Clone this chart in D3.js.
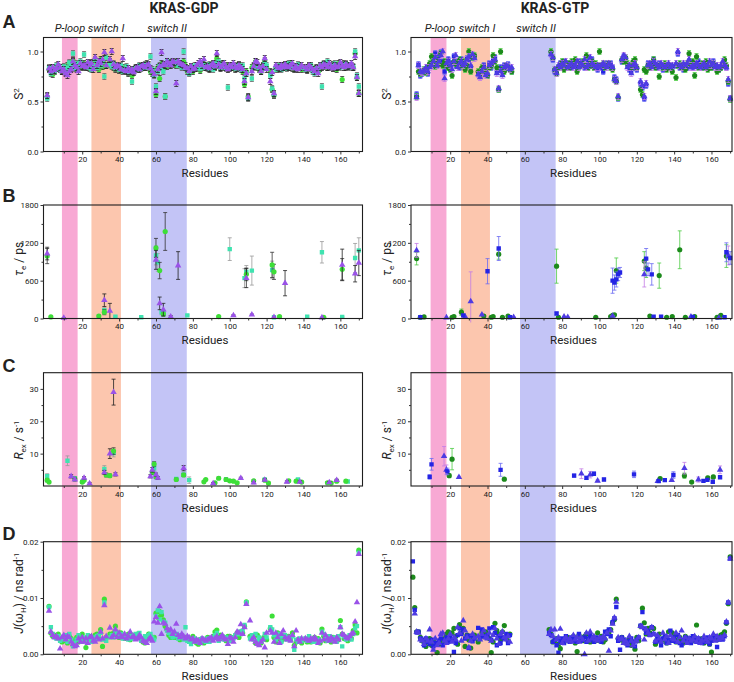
<!DOCTYPE html>
<html><head><meta charset="utf-8">
<script src="https://cdn.jsdelivr.net/npm/d3@7"></script>
<style>
body{margin:0;background:#fff}
svg text{font-family:Roboto,"Liberation Sans",sans-serif;fill:#222}
</style>
</head><body>
<svg id="chart" width="734" height="682"></svg>
<script>
// ---------------- DATA ----------------
const titles = ["KRAS-GDP", "KRAS-GTP"];
const panelLetters = ["A", "B", "C", "D"];
const regionNames = ["P-loop", "switch I", "switch II"];
const regionsGDP = [[9, 17.5], [25, 41], [57.3, 76.7]];
const regionsGTP = [[9.5, 18], [25.8, 41.3], [57.4, 76.5]];
const xTicks = [20, 40, 60, 80, 100, 120, 140, 160];
const xMinor = [10, 30, 50, 70, 90, 110, 130, 150, 170];
const ticksS2 = [0, 0.5, 1.0], minorS2 = [0.25, 0.75];
const ticksTau = [0, 600, 1200, 1800], minorTau = [300, 900, 1500];
const ticksRex = [10, 20, 30], minorRex = [5, 15, 25];
const ticksJ = [0, 10, 20], minorJ = [5, 15];   // J in units of 1e-3 ns/rad
const s2Err = 0.03;

// S2, KRAS-GDP (index = residue)
const s2GdpGreen = [null,0.55,0.82,0.84,0.77,0.80,0.83,0.85,0.82,0.80,
 0.84,0.79,0.86,0.88,0.83,0.91,0.85,0.82,0.87,0.86,
 0.84,0.88,0.85,0.87,0.83,0.89,0.84,0.90,0.86,0.82,
 0.92,0.85,0.88,0.86,null,0.90,0.86,0.84,0.82,0.85,
 0.81,0.83,0.80,0.84,0.82,0.78,0.80,0.76,0.82,0.84,
 0.83,0.85,0.84,0.86,0.85,0.88,0.84,0.80,0.78,0.80,
 0.57,0.84,0.73,0.88,0.84,0.55,0.85,0.87,0.89,0.88,
 0.87,0.86,0.88,0.87,0.85,0.90,0.86,0.80,0.79,0.82,
 0.80,0.84,0.83,0.86,0.81,0.85,0.88,0.84,0.86,0.82,
 0.85,0.87,0.84,0.93,0.86,0.83,0.88,0.84,0.86,0.85,
 0.83,0.86,0.84,0.82,0.85,0.87,0.84,0.80,0.67,0.80,
 0.55,null,0.84,0.86,0.90,0.84,0.82,0.80,0.86,0.91,
 0.84,null,0.80,0.62,0.56,0.84,0.82,0.85,0.83,0.86,
 0.84,0.87,0.85,0.88,0.83,0.82,0.85,0.84,0.86,0.82,
 null,0.83,0.81,0.85,0.86,0.82,0.80,0.84,0.80,0.83,
 0.86,0.85,0.88,0.84,0.86,0.85,0.87,0.84,0.82,0.88,
 0.86,0.72,0.88,0.84,0.86,0.85,0.86,0.84,0.98,0.74,
 0.58];
const s2GdpCyan = [null,0.53,0.84,0.78,0.82,0.80,0.86,0.83,0.82,0.81,
 0.85,0.80,0.84,0.89,0.86,0.98,0.83,0.88,0.85,0.90,
 0.87,0.97,0.86,0.84,0.88,0.82,0.86,0.92,0.84,0.88,
 0.86,0.90,0.75,0.94,null,0.87,0.85,0.88,0.83,0.84,
 0.82,0.86,0.80,0.82,0.85,0.79,0.81,0.70,0.80,0.83,
 0.82,0.86,0.83,0.84,0.87,0.84,0.86,0.95,0.82,0.76,
 0.65,0.80,0.86,0.84,0.80,0.55,0.90,0.88,0.87,0.89,
 0.88,0.90,0.86,0.88,0.84,1.00,0.84,0.82,0.78,0.84,
 0.82,0.86,0.84,0.85,0.83,0.87,0.84,0.86,0.83,0.87,
 0.84,0.82,0.88,0.86,0.90,0.84,0.87,0.85,0.83,0.64,
 0.85,0.84,0.86,0.83,0.86,0.84,0.82,0.86,0.73,0.78,
 0.53,null,0.73,0.84,0.88,0.86,0.83,0.82,0.84,0.88,
 0.86,null,0.76,0.63,0.57,0.82,0.84,0.86,0.82,0.85,
 0.86,0.83,0.88,0.84,0.86,0.84,0.83,0.87,0.85,0.84,
 null,0.82,0.84,0.83,0.86,0.80,0.78,0.83,0.82,0.85,
 0.65,0.88,0.86,0.90,0.85,0.84,0.86,0.88,0.84,0.86,
 0.84,0.87,0.86,0.88,0.85,0.84,0.86,0.85,1.00,0.76,
 0.65];
const s2GdpPurple = [null,0.56,0.83,0.80,0.84,0.81,0.83,0.87,0.84,0.80,
 0.82,0.78,0.76,0.80,0.82,0.90,0.86,0.84,0.80,0.88,
 0.85,0.86,0.84,0.89,0.86,0.88,0.82,0.94,0.86,0.90,
 0.88,0.92,0.99,0.86,null,0.92,1.00,0.87,0.84,0.86,
 0.85,0.82,0.93,0.81,0.80,0.83,0.80,0.82,0.79,0.83,
 0.84,0.82,0.85,0.86,0.84,0.86,0.87,0.83,0.80,0.77,
 0.60,0.82,0.85,0.99,0.87,0.86,0.90,0.88,0.86,0.90,
 0.89,0.68,0.90,0.88,0.87,0.86,0.84,0.83,0.80,0.85,
 0.82,0.83,0.86,0.88,0.90,0.86,0.92,0.84,0.85,0.83,
 0.86,0.88,0.85,0.98,0.87,0.84,0.86,0.88,0.84,0.82,
 0.86,0.84,0.88,0.85,0.83,0.86,0.84,0.82,0.70,0.78,
 0.54,null,0.80,0.85,0.90,0.89,0.84,0.80,0.85,0.93,
 0.82,null,0.70,0.79,0.58,0.86,0.84,0.83,0.86,0.84,
 0.87,0.85,0.84,0.86,0.88,0.83,0.85,0.82,0.84,0.86,
 null,0.84,0.82,0.86,0.84,0.82,0.80,0.83,0.78,0.86,
 0.84,0.87,0.86,0.84,0.88,0.85,0.83,0.86,0.84,0.85,
 0.89,0.86,0.84,0.87,0.85,0.86,0.88,0.84,0.95,0.74,
 0.58];

// S2, KRAS-GTP
const s2GtpGreen = [null,null,0.55,0.80,0.78,0.80,0.82,0.79,0.84,0.88,
 0.95,0.90,0.85,0.92,0.88,0.98,0.86,0.90,0.88,0.84,
 0.82,0.76,0.90,0.88,0.86,0.92,0.86,0.90,0.82,0.86,
 1.00,0.80,0.94,0.96,null,0.80,0.78,0.84,0.82,0.80,
 0.76,0.84,0.86,0.96,0.90,0.84,0.62,1.00,0.82,0.80,
 0.86,0.84,0.82,0.80,null,null,null,null,null,null,
 null,null,null,null,null,null,null,null,null,null,
 null,null,null,null,1.00,0.94,0.82,0.78,0.84,0.86,
 0.90,0.82,0.86,0.88,0.84,0.90,0.86,0.92,0.80,0.85,
 0.88,0.90,0.86,0.96,0.84,0.88,0.90,0.84,0.88,0.86,
 1.00,0.86,0.88,0.84,0.86,0.88,0.84,0.82,0.72,0.70,
 0.54,null,0.92,0.90,0.94,0.88,0.86,0.84,0.90,0.92,
 0.84,null,0.62,0.57,0.82,0.80,0.86,0.84,0.88,0.92,
 0.84,0.86,0.75,0.86,0.84,0.88,0.82,0.86,0.84,0.80,
 null,0.74,0.86,0.88,0.84,0.86,0.82,0.88,0.98,0.86,
 0.90,0.76,0.95,0.84,0.86,0.88,0.84,0.90,0.82,0.86,
 0.84,0.88,0.86,0.80,0.82,0.84,0.86,0.92,0.86,0.70,
 0.52];
const s2GtpBlue = [null,null,0.57,0.87,0.76,0.78,0.80,0.82,0.78,0.86,
 0.88,0.92,0.98,0.86,0.94,0.99,0.90,0.80,0.86,0.92,
 0.84,0.88,0.95,0.86,0.90,0.84,0.92,0.88,0.86,0.93,
 0.92,0.84,0.96,0.95,null,0.78,0.76,0.82,0.86,0.78,
 0.76,0.88,0.84,0.92,0.94,0.80,0.62,0.84,0.78,0.86,
 0.84,0.87,0.83,0.80,null,null,null,null,null,null,
 null,null,null,null,null,null,null,null,null,null,
 null,null,null,null,0.98,0.92,0.80,0.80,0.84,0.88,
 0.86,0.90,0.84,0.86,0.88,0.84,0.86,0.88,0.84,0.90,
 0.86,0.88,0.84,0.86,0.90,0.86,0.92,0.86,0.84,0.82,
 0.86,0.84,0.80,0.86,0.88,0.86,0.88,0.84,0.74,0.72,
 0.53,null,0.90,0.95,0.92,0.86,0.82,0.80,0.84,0.86,
 0.82,null,0.68,0.64,0.53,0.66,0.88,0.84,0.86,0.92,
 0.86,0.84,0.88,0.86,0.82,0.84,0.86,0.84,0.86,0.84,
 null,0.86,0.98,0.84,0.86,0.82,0.86,0.84,0.90,0.86,
 0.84,0.88,0.86,0.90,0.86,0.84,0.86,0.84,0.88,0.86,
 0.84,0.90,0.86,0.84,0.82,0.84,0.86,0.88,0.84,0.68,
 0.53];
const s2GtpViolet = [null,null,0.54,0.86,0.80,0.79,0.81,0.84,0.80,0.84,
 0.86,0.90,0.94,0.86,0.90,0.96,1.00,0.73,0.88,0.90,
 0.86,0.82,0.90,0.96,0.84,0.88,0.90,0.86,0.88,0.92,
 0.95,0.86,0.97,0.93,null,0.77,0.74,0.80,0.84,0.76,
 0.78,0.86,0.88,0.90,0.92,0.78,0.63,0.80,0.76,0.84,
 0.86,0.85,0.82,0.84,null,null,null,null,null,null,
 null,null,null,null,null,null,null,null,null,null,
 null,null,null,null,0.97,0.94,0.82,0.78,0.86,0.84,
 0.88,0.86,0.90,0.84,0.86,0.88,0.84,0.86,0.90,0.84,
 0.88,0.86,0.92,0.84,0.86,0.94,0.88,0.86,0.84,0.86,
 0.84,0.86,0.88,0.86,0.84,0.88,0.86,0.84,0.72,0.70,
 0.55,null,0.92,0.96,0.94,0.84,0.86,0.78,0.86,0.88,
 0.84,null,0.70,0.66,0.55,0.68,0.86,0.88,0.84,0.90,
 0.88,0.86,0.84,0.88,0.86,0.84,0.86,0.88,0.84,0.86,
 null,0.88,1.00,0.86,0.84,0.88,0.86,0.88,0.92,0.84,
 0.86,0.84,0.88,0.86,0.84,0.86,0.88,0.84,0.86,0.90,
 0.86,0.88,0.84,0.86,0.84,0.86,0.90,0.86,0.84,0.72,
 0.53];

// tau_e (ps): [residue, value, error]
const tauGdpGreen = [[1,990,120],[3,25,8],[29,40,15],[32,100,40],[60,1120,150],[62,760,130],[64,70,30],[65,1380,300],[94,30,8],[109,700,100],[123,850,200],[124,740,120],[127,30,8],[151,20,6],[161,780,170]];
const tauGdpCyan = [[32,130,40],[38,30,10],[52,20,6],[60,1000,150],[61,890,140],[63,100,40],[64,90,30],[77,50,10],[100,1100,180],[108,640,150],[109,740,100],[112,760,230],[123,770,140],[124,20,6],[142,30,10],[150,1050,170],[161,25,6],[168,960,230],[170,1080,200]];
const tauGdpPurple = [[1,1030,100],[10,10,5],[32,290,100],[35,120,120],[60,930,150],[62,240,100],[64,140,100],[68,30,15],[72,840,220],[102,50,10],[109,640,150],[112,60,10],[124,20,6],[130,560,200],[150,15,5],[161,850,250],[168,710,130],[170,880,200]];
const tauGtpGreen = [[2,950,100],[4,20,5],[6,25,5],[21,20,5],[22,30,5],[26,100,50],[38,40,10],[42,20,5],[43,30,5],[46,1020,80],[48,20,5],[51,40,10],[77,830,270],[78,20,5],[98,20,5],[106,30,5],[107,50,5],[108,60,10],[109,760,200],[124,910,150],[125,800,150],[127,40,5],[132,680,200],[136,20,5],[139,30,5],[143,1090,300],[146,20,5],[151,30,5],[163,20,5],[165,50,10],[168,990,180]];
const tauGtpBlue = [[4,20,5],[27,50,10],[40,750,200],[46,1110,190],[52,20,5],[77,80,20],[107,600,200],[108,570,120],[109,620,120],[110,700,100],[111,730,80],[125,950,160],[126,780,100],[128,700,170],[129,30,5],[133,30,5],[150,25,5],[167,20,5],[168,1050,150],[170,960,100]];
const tauGtpViolet = [[2,1080,110],[18,15,5],[28,30,5],[31,270,470],[37,60,10],[54,20,5],[81,30,5],[83,20,5],[107,40,5],[124,700,200],[149,30,5],[164,10,5],[169,1000,150]];

// R_ex (s^-1): [residue, value, error]
const rexGdpGreen = [[1,1.8,0.5],[2,1.2,0.3],[16,2.2,0.5],[20,1.2,0.3],[21,1.8,0.4],[33,3.4,0.6],[35,3.2,0.5],[37,10.8,1],[58,4.2,0.6],[59,6.8,0.7],[60,2.8,0.4],[71,2.0,0.4],[75,3.4,0.5],[86,1.3,0.3],[87,2.0,0.3],[92,1.0,0.3],[94,2.4,0.4],[98,2.0,0.4],[100,1.6,0.3],[102,1.5,0.3],[104,1.0,0.3],[113,1.6,0.3],[119,1.8,0.3],[121,0.9,0.3],[132,1.6,0.3],[136,1.5,0.3],[139,1.2,0.3],[153,1.0,0.3],[155,0.9,0.3],[158,1.5,0.3],[163,1.5,0.3]];
const rexGdpCyan = [[1,3.0,0.8],[12,7.8,1.5],[16,2.4,0.5],[20,1.3,0.3],[32,5.3,1.0],[37,10.2,1.2],[59,5.5,0.8],[71,2.2,0.4],[75,3.5,0.5],[78,1.8,1.0],[98,2.0,0.4],[119,2.0,0.3],[137,2.0,0.3],[164,1.4,0.3]];
const rexGdpPurple = [[14,3.0,0.5],[16,2.0,0.4],[21,2.5,0.4],[24,0.8,0.3],[32,4.2,0.6],[35,10.0,1.5],[37,29.0,4.0],[38,3.6,0.5],[57,3.0,0.5],[58,5.0,0.7],[60,3.5,0.5],[61,2.5,0.4],[75,5.5,0.8],[91,0.8,0.3],[106,2.4,0.3],[113,1.0,0.3],[119,1.9,0.3],[131,1.3,0.3],[138,1.3,0.3],[154,1.1,0.3],[158,1.8,0.3]];
const rexGtpGreen = [[19.5,3.2,0.6],[21,8.3,3.3],[49,2.1,0.3],[132.5,2.3,0.4],[145.5,3.2,0.8],[149.4,1.2,0.3],[158,2.5,0.5],[161,2.8,0.5]];
const rexGtpBlue = [[9,2.8,0.7],[10,6.7,1.8],[18.5,4.5,1.0],[47,5.0,2.0],[86.4,3.2,0.5],[93,2.5,0.5],[97,3.8,0.5],[102.4,2.0,0.4],[118.5,3.6,1.0],[131.7,1.5,0.3],[135,1.8,0.3],[139.6,3.4,1.0],[155.7,1.6,0.3],[157.8,1.9,0.3],[160.7,1.3,0.3],[164.6,2.7,0.4]];
const rexGtpViolet = [[16.7,9.2,3.0],[18,5.0,1.5],[24.7,2.7,0.3],[90.3,3.8,1.5],[95,3.5,1.0],[99,1.6,0.3],[131.2,1.5,0.3],[138.7,1.8,0.3],[145.5,5.5,1.8],[153,2.0,0.8],[164.6,5.0,1.2]];

// J(wH), units of 1e-3 ns/rad (index = residue)
const jGdpGreen = [null,null,8.5,3.8,3.2,3.4,3.0,3.6,2.6,2.2,
 3.0,2.4,2.0,3.2,2.8,1.6,2.4,3.0,2.2,2.8,
 3.6,2.4,1.2,2.8,3.2,2.6,2.4,3.4,3.6,2.8,
 4.4,1.4,9.8,3.0,null,3.6,3.2,3.8,5.0,3.4,
 3.0,3.8,3.4,2.8,3.2,3.6,2.6,3.4,3.0,2.8,
 3.6,3.2,2.6,2.2,2.0,3.0,3.6,3.2,2.8,3.0,
 7.3,6.6,7.6,7.0,6.1,5.0,4.4,3.4,3.0,3.2,
 3.0,3.4,3.0,2.6,3.2,2.8,3.0,3.0,2.6,2.2,
 3.2,2.4,2.0,1.8,2.6,2.2,2.0,2.4,3.0,2.6,
 2.8,3.2,4.0,4.3,3.0,3.4,2.8,3.0,2.4,3.2,
 3.2,2.6,3.0,3.2,3.8,3.0,4.0,3.8,5.0,9.3,
 null,3.2,2.8,3.0,2.0,3.4,2.4,2.0,2.8,3.2,
 2.6,null,4.6,6.8,3.0,2.2,3.8,2.8,2.4,3.4,
 2.8,3.0,3.2,2.6,3.8,1.6,2.2,2.6,2.4,2.0,
 null,2.6,2.2,2.8,2.2,2.6,3.0,2.4,2.8,2.0,
 4.5,3.2,2.4,3.0,2.6,2.2,3.0,2.8,2.4,2.6,
 6.0,3.6,2.8,3.0,2.4,3.2,2.8,4.2,5.2,3.8,
 18.5];
const jGdpCyan = [null,null,8.4,4.8,3.6,3.0,2.8,3.2,2.4,2.8,
 2.6,3.4,2.2,3.6,2.6,1.4,2.0,2.6,3.4,2.4,
 2.2,3.0,2.6,3.4,2.8,2.2,3.0,2.6,3.2,3.4,
 3.8,2.6,9.2,2.4,null,3.0,3.4,3.0,4.2,3.8,
 3.2,3.6,2.8,3.4,3.0,2.6,3.2,2.8,3.4,3.6,
 3.0,3.8,2.4,2.8,3.2,2.6,3.4,3.6,3.0,2.6,
 6.8,7.8,6.2,7.5,5.8,5.6,4.2,3.8,3.4,3.0,
 3.2,3.6,2.8,3.4,3.0,2.6,4.8,2.4,2.2,1.8,
 2.4,2.8,2.2,2.6,2.0,2.8,2.4,2.2,2.8,2.2,
 2.6,3.0,3.4,3.8,2.4,2.8,3.2,2.6,3.0,2.8,
 2.4,3.0,2.8,3.4,3.6,4.0,3.6,4.2,5.2,9.2,
 null,2.8,3.4,2.6,3.6,2.4,3.0,2.2,2.6,3.6,
 3.0,null,4.8,4.4,3.4,2.6,3.6,3.0,2.2,3.2,
 3.4,2.6,3.0,2.8,3.2,0.8,2.6,2.2,2.8,2.4,
 null,2.8,2.4,3.2,2.6,2.2,2.8,2.2,2.6,2.4,
 4.0,3.6,2.8,2.4,3.2,2.6,2.8,3.0,2.2,3.2,
 4.8,1.4,3.2,2.6,3.0,3.4,2.6,3.6,4.6,5.0,
 18.0];
const jGdpPurple = [null,null,7.7,4.0,3.4,3.0,3.2,2.8,1.0,3.0,
 3.4,2.6,3.2,3.0,2.2,1.8,1.4,1.6,2.8,2.2,
 3.0,2.2,2.8,2.0,3.0,3.2,2.4,2.2,3.0,2.6,
 4.0,2.8,8.7,3.2,null,4.7,3.0,3.4,4.4,3.0,
 3.8,3.2,3.0,3.6,2.8,3.2,4.0,3.0,3.2,2.6,
 2.8,3.4,3.0,2.4,2.2,2.0,2.6,3.0,2.4,5.8,
 6.6,5.6,8.5,3.6,5.6,5.4,4.6,4.2,4.4,3.6,
 4.0,5.4,3.4,3.0,3.6,3.2,2.8,3.2,3.0,2.6,
 2.8,2.2,2.6,2.4,2.0,2.8,2.6,2.4,2.6,2.8,
 3.0,2.4,2.8,3.2,2.6,3.0,3.4,2.8,2.6,1.8,
 3.0,2.8,2.2,3.0,4.0,3.8,5.3,3.6,4.8,8.9,
 null,6.0,2.6,3.0,2.2,1.8,1.6,2.2,2.6,1.2,
 3.8,null,4.2,3.8,2.2,3.8,3.0,2.0,3.6,4.2,
 3.0,2.6,3.0,2.4,3.4,1.4,4.2,2.6,2.2,2.8,
 null,2.8,2.6,2.4,2.8,2.6,3.0,2.6,2.0,2.4,
 3.8,2.6,3.4,2.8,2.4,3.0,2.6,2.2,3.0,2.6,
 4.8,3.6,3.4,3.0,2.8,3.2,3.6,3.8,5.8,9.2,
 17.8];
const jGtpGreen = [13.7,8.3,4.0,4.0,3.0,2.4,2.2,1.4,2.6,2.8,
 1.6,2.4,2.0,0.3,1.8,2.6,2.2,2.8,3.6,4.0,
 2.6,3.8,4.6,3.2,1.8,5.3,3.8,4.6,1.4,3.4,
 2.6,1.1,3.0,3.4,null,2.2,3.0,3.8,3.5,4.0,
 3.0,2.8,0.3,2.2,5.5,4.2,3.6,2.6,4.0,5.1,
 3.0,2.4,3.6,null,null,null,null,null,null,null,
 null,null,null,null,null,null,null,null,null,null,
 null,null,null,4.4,3.6,2.2,2.4,2.8,1.8,1.0,
 2.6,2.2,2.8,3.0,2.4,2.6,3.2,2.0,0.5,3.4,
 2.8,2.4,3.2,3.6,2.6,2.2,3.0,2.8,2.4,3.8,
 2.4,3.2,2.2,2.6,4.0,3.8,4.4,5.6,6.2,9.8,
 2.8,2.6,3.0,2.2,2.4,2.0,2.8,1.6,2.2,0.9,
 3.0,2.4,5.0,8.2,5.6,3.6,4.6,3.8,4.8,4.6,
 1.8,2.8,3.6,2.2,2.6,3.0,2.0,4.0,2.4,3.8,
 3.4,2.2,2.6,3.0,2.4,2.0,3.2,2.6,2.2,2.8,
 2.4,3.0,5.2,2.6,2.2,2.8,2.0,2.4,2.6,1.8,
 0.4,2.8,3.2,2.6,3.0,3.4,3.6,4.0,5.5,9.0,
 17.3];
const jGtpBlue = [16.5,7.9,3.9,4.0,2.8,2.6,1.6,2.8,2.2,1.8,
 2.6,1.4,2.0,1.8,2.4,2.8,1.6,2.6,3.0,2.2,
 3.2,2.6,0.4,2.0,3.4,4.6,3.6,4.4,2.8,3.3,
 1.1,3.3,2.3,2.8,null,4.7,3.0,4.4,3.2,3.0,
 3.4,4.6,2.6,4.8,3.8,1.6,3.2,2.0,3.0,2.8,
 3.6,2.0,3.4,null,null,null,null,null,null,null,
 null,null,null,null,null,null,null,null,null,null,
 null,null,null,3.8,3.4,2.2,2.6,1.6,0.3,2.4,
 2.8,2.0,3.2,2.6,2.2,3.0,2.4,2.8,2.2,3.6,
 2.4,2.6,3.0,2.2,2.8,3.4,2.6,2.2,3.0,2.6,
 2.8,2.2,3.0,4.0,3.6,4.4,3.2,5.7,6.4,8.4,
 2.4,0.8,3.0,2.6,2.0,1.6,2.4,2.8,2.2,1.4,
 2.6,3.0,5.1,7.5,4.6,3.8,4.2,3.4,4.8,3.6,
 2.2,3.0,2.4,1.6,2.8,3.2,2.0,2.6,4.2,2.4,
 3.0,2.2,3.4,2.0,1.6,2.6,3.0,2.4,2.8,2.0,
 3.2,2.6,2.2,2.8,2.4,2.0,2.6,2.2,3.0,1.8,
 2.4,2.8,3.2,1.3,2.6,3.0,2.6,3.2,5.7,9.2,
 17.0];
const jGtpViolet = [null,7.2,4.0,3.8,2.6,2.4,1.8,2.8,2.4,4.4,
 2.2,0.8,2.8,1.6,2.0,3.6,3.8,2.4,2.0,2.8,
 3.6,2.2,3.0,2.6,4.8,3.8,2.4,6.0,4.2,3.0,
 1.2,2.4,3.6,2.9,null,3.2,2.6,3.6,4.2,3.0,
 2.8,3.8,2.4,3.4,4.6,2.8,1.8,3.6,4.0,3.0,
 2.6,3.2,2.2,null,null,null,null,null,null,null,
 null,null,null,null,null,null,null,null,null,null,
 null,null,null,3.6,4.4,3.2,4.4,2.6,3.0,4.5,
 2.0,2.6,3.0,2.4,2.8,2.2,3.4,2.6,3.0,2.2,
 3.0,2.6,0.0,3.8,2.4,4.0,2.8,3.2,2.6,2.4,
 3.0,2.6,3.2,2.8,3.8,0.6,4.2,5.4,6.5,9.3,
 3.0,2.6,2.8,2.0,2.4,1.8,3.2,2.4,1.6,2.2,
 2.4,3.0,5.0,4.8,2.6,4.4,3.8,3.4,4.8,3.6,
 2.4,3.4,2.8,2.2,3.8,2.6,3.2,2.0,3.4,2.8,
 2.6,3.8,2.2,3.0,4.2,2.4,3.0,2.0,2.8,2.4,
 2.6,3.2,2.2,2.8,2.0,2.4,3.2,2.6,2.2,3.0,
 2.8,3.6,2.4,3.2,2.6,3.0,2.8,3.4,5.8,9.2,
 17.0];

// ---------------- STYLE / LAYOUT ----------------
const svg = d3.select("#chart");
const colGDP = {green:"#3ddf38", cyan:"#3fe3b0", purple:"#9a52e8"};
const colGTP = {green:"#1c8a1c", blue:"#2424e4", violet:"#4e3be2"};
const bandColors = ["#f8a9d4", "#fcc6ae", "#c3c4f6"];

const sides = [
  {x0:43.5, x1:362.5, dom:[-1,172], titleX:184, regions:regionsGDP, labelX:23,
   bandLabelX:[70,106,167]},
  {x0:411, x1:732, dom:[-1,171], titleX:555, regions:regionsGTP, labelX:391,
   bandLabelX:[440,477,536]}
];
const rows = [
  {top:37.5, bottom:151.5, dom:[0,1.14], ticks:ticksS2, minor:minorS2, fmt:d=>d.toFixed(1), letterY:28, labelCY:94},
  {top:205, bottom:318.5, dom:[0,1800], ticks:ticksTau, minor:minorTau, fmt:d=>String(d), letterY:202, labelCY:259},
  {top:372.7, bottom:486, dom:[0,35], ticks:ticksRex, minor:minorRex, fmt:d=>String(d), letterY:371.5, labelCY:440},
  {top:541.7, bottom:654.3, dom:[0,20], ticks:ticksJ, minor:minorJ, fmt:d=>(d/1000).toFixed(2), letterY:540, labelCY:593}
];

const dense = (arr, err) => arr.map((v,i)=> v==null?null:[i,v,err]).filter(Boolean);

const seriesByPanel = [
  [ // A
    [{d:dense(s2GdpGreen,s2Err), s:"circle", c:colGDP.green, e:"#333"},
     {d:dense(s2GdpCyan,s2Err), s:"square", c:colGDP.cyan, e:"#666"},
     {d:dense(s2GdpPurple,s2Err), s:"triangle", c:colGDP.purple, e:"#222"}],
    [{d:dense(s2GtpBlue,s2Err), s:"square", c:colGTP.blue, e:"#6a6af2"},
     {d:dense(s2GtpGreen,s2Err), s:"circle", c:colGTP.green, e:"#4ccc44"},
     {d:dense(s2GtpViolet,s2Err), s:"triangle", c:colGTP.violet, e:"#c47ce6"}]
  ],
  [ // B
    [{d:tauGdpCyan, s:"square", c:colGDP.cyan, e:"#999"},
     {d:tauGdpGreen, s:"circle", c:colGDP.green, e:"#333"},
     {d:tauGdpPurple, s:"triangle", c:colGDP.purple, e:"#222"}],
    [{d:tauGtpGreen, s:"circle", c:colGTP.green, e:"#4ccc44"},
     {d:tauGtpViolet, s:"triangle", c:colGTP.violet, e:"#c47ce6"},
     {d:tauGtpBlue, s:"square", c:colGTP.blue, e:"#6a6af2"}]
  ],
  [ // C
    [{d:rexGdpCyan, s:"square", c:colGDP.cyan, e:"#999"},
     {d:rexGdpGreen, s:"circle", c:colGDP.green, e:"#333"},
     {d:rexGdpPurple, s:"triangle", c:colGDP.purple, e:"#222"}],
    [{d:rexGtpGreen, s:"circle", c:colGTP.green, e:"#4ccc44"},
     {d:rexGtpViolet, s:"triangle", c:colGTP.violet, e:"#c47ce6"},
     {d:rexGtpBlue, s:"square", c:colGTP.blue, e:"#6a6af2"}]
  ],
  [ // D
    [{d:dense(jGdpGreen,0), s:"circle", c:colGDP.green},
     {d:dense(jGdpCyan,0), s:"square", c:colGDP.cyan},
     {d:dense(jGdpPurple,0), s:"triangle", c:colGDP.purple}],
    [{d:dense(jGtpGreen,0), s:"circle", c:colGTP.green},
     {d:dense(jGtpBlue,0), s:"square", c:colGTP.blue},
     {d:dense(jGtpViolet,0), s:"triangle", c:colGTP.violet}]
  ]
];

const symbols = {
  circle: d3.symbol(d3.symbolCircle, 21)(),
  square: d3.symbol(d3.symbolSquare, 19)(),
  triangle: d3.symbol(d3.symbolTriangle, 18)()
};

// ---------------- DRAW ----------------
sides.forEach((side, si) => {
  const x = d3.scaleLinear().domain(side.dom).range([side.x0, side.x1]);
  side.regions.forEach((r, k) => {
    svg.append("rect").attr("x", x(r[0])).attr("width", x(r[1]) - x(r[0]))
      .attr("y", rows[0].top).attr("height", rows[3].bottom - rows[0].top)
      .attr("fill", bandColors[k]);
    svg.append("text").attr("x", side.bandLabelX[k]).attr("y", 32)
      .attr("text-anchor", "middle").attr("font-size", 11).attr("font-style", "italic")
      .text(regionNames[k]);
  });
  svg.append("text").attr("x", side.titleX).attr("y", 13).attr("text-anchor", "middle")
    .attr("font-size", 14).attr("font-weight", "bold").text(titles[si]);

  rows.forEach((row, ri) => {
    const y = d3.scaleLinear().domain(row.dom).range([row.bottom, row.top]);
    const g = svg.append("g");
    const clipId = `clip${si}${ri}`;
    svg.append("clipPath").attr("id", clipId).append("rect")
      .attr("x", side.x0 - 4).attr("y", row.top - 2).attr("width", side.x1 - side.x0 + 8)
      .attr("height", row.bottom - row.top + 6);
    const pg = g.append("g").attr("clip-path", `url(#${clipId})`);
    seriesByPanel[ri][si].forEach(ser => {
      if (ser.e) {
        const eb = pg.append("g").attr("stroke", ser.e).attr("stroke-width", 0.8).attr("fill", "none");
        ser.d.filter(p => p[2] > 0).forEach(p => {
          const px = x(p[0]), ylo = y(p[1] - p[2]), yhi = y(p[1] + p[2]);
          eb.append("path").attr("d", `M${px},${ylo}V${yhi}M${px-2},${ylo}H${px+2}M${px-2},${yhi}H${px+2}`);
        });
      }
      pg.append("g").selectAll("path").data(ser.d).join("path")
        .attr("d", symbols[ser.s])
        .attr("transform", p => `translate(${x(p[0])},${y(p[1])})`)
        .attr("fill", ser.c);
    });
    g.append("rect").attr("x", side.x0).attr("y", row.top)
      .attr("width", side.x1 - side.x0).attr("height", row.bottom - row.top)
      .attr("fill", "none").attr("stroke", "#1e1e1e").attr("stroke-width", 1.1);
    const xa = g.append("g").attr("transform", `translate(0,${row.bottom})`)
      .call(d3.axisBottom(x).tickValues(xTicks).tickSize(3).tickPadding(2).tickFormat(d3.format("d")));
    const xm = g.append("g").attr("transform", `translate(0,${row.bottom})`)
      .call(d3.axisBottom(x).tickValues(xMinor).tickSize(2).tickFormat(""));
    const ya = g.append("g").attr("transform", `translate(${side.x0},0)`)
      .call(d3.axisLeft(y).tickValues(row.ticks).tickSize(3).tickPadding(2).tickFormat(row.fmt));
    const ym = g.append("g").attr("transform", `translate(${side.x0},0)`)
      .call(d3.axisLeft(y).tickValues(row.minor).tickSize(2).tickFormat(""));
    [xa, xm, ya, ym].forEach(a => {
      a.select(".domain").remove();
      a.selectAll("line").attr("stroke", "#333");
      a.selectAll("text").attr("font-size", 8).attr("fill", "#333")
        .style("font-family", "Roboto, sans-serif");
    });
    g.append("text").attr("x", (side.x0 + side.x1) / 2 + 2).attr("y", row.bottom + 25.5)
      .attr("text-anchor", "middle").attr("font-size", 11.5).text("Residues");
    if (si === 0) {
      svg.append("text").attr("x", 2.5).attr("y", row.letterY).attr("font-size", 18)
        .attr("font-weight", "bold").style("font-family", "'Liberation Sans',Arial,sans-serif")
        .text(panelLetters[ri]);
    }
    const lt = g.append("text").attr("transform", `translate(${side.labelX},${row.labelCY}) rotate(-90)`)
      .attr("text-anchor", "middle").attr("font-size", 12);
    if (ri === 0) {
      lt.append("tspan").text("S");
      lt.append("tspan").attr("dy", -4).attr("font-size", 8).text("2");
    } else if (ri === 1) {
      lt.append("tspan").attr("font-style", "italic").text("τ");
      lt.append("tspan").attr("dy", 3).attr("font-size", 8).text("e");
      lt.append("tspan").attr("dy", -3).text(" / ps");
    } else if (ri === 2) {
      lt.append("tspan").attr("font-style", "italic").text("R");
      lt.append("tspan").attr("dy", 3).attr("font-size", 8).text("ex");
      lt.append("tspan").attr("dy", -3).text(" / s");
      lt.append("tspan").attr("dy", -4).attr("font-size", 8).text("-1");
    } else {
      lt.append("tspan").attr("font-style", "italic").text("J");
      lt.append("tspan").text("(ω");
      lt.append("tspan").attr("dy", 3).attr("font-size", 8).text("H");
      lt.append("tspan").attr("dy", -3).text(") / ns rad");
      lt.append("tspan").attr("dy", -4).attr("font-size", 8).text("-1");
    }
  });
});
</script>
</body></html>
